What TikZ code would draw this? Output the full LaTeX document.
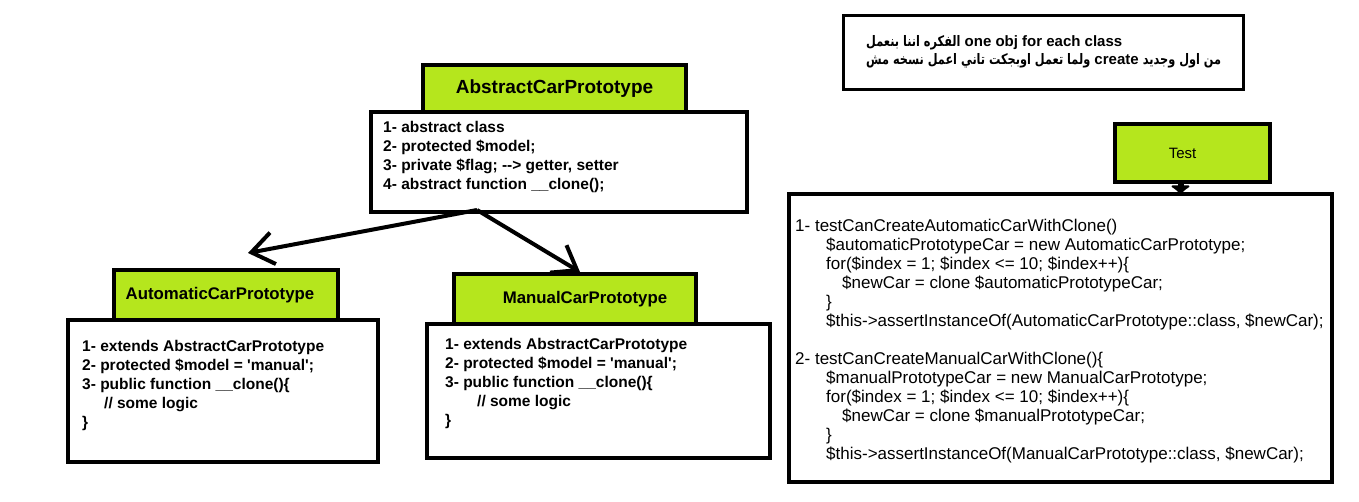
\documentclass[tikz,border=0pt]{standalone}
\usepackage{fontspec}
\setmainfont{Liberation Sans}[Ligatures=TeXOff]
\newfontfamily\arabicfont[Script=Arabic, FakeStretch=0.78]{DejaVu Sans}
\TeXXeTstate=1
\usetikzlibrary{arrows.meta}
\definecolor{paintlime}{RGB}{181,230,29}

\begin{document}
\begin{tikzpicture}[x=1pt, y=-1pt,
  classhead/.style={draw, line width=4pt, fill=paintlime, anchor=north west, inner sep=0pt},
  classbody/.style={draw, line width=4pt, fill=white, anchor=north west, inner sep=0pt},
  classtext/.style={anchor=north west, inner sep=0pt, align=left, font=\fontsize{15.5}{19}\selectfont\bfseries},
  testtext/.style={anchor=north west, inner sep=0pt, align=left, font=\fontsize{17}{19}\selectfont},
  inherit/.style={line width=4pt, -{Straight Barb[length=22pt, width=32pt]}}]
  \useasboundingbox (0,0) rectangle (1359,501);

  %%% note %%%
  \node[draw, line width=3pt, anchor=north west, inner sep=0pt, minimum width=400pt, minimum height=74pt] (note) at (842,14) {};
  \node[anchor=north west, inner sep=0pt, align=left, font=\fontsize{15}{18}\selectfont\bfseries] (notetext) at (866,35)
    {{\arabicfont\fontsize{14.5}{18}\selectfont\beginR الفكره اننا بنعمل\endR} one obj for each class\\
     {\arabicfont\fontsize{14.5}{18}\selectfont\beginR ولما تعمل اوبجكت تاني اعمل نسخه مش\endR} create {\arabicfont\fontsize{14.5}{18}\selectfont\beginR من اول وجديد\endR}};

  %%% abstract class %%%
  \node[classbody, minimum width=376pt, minimum height=100pt] (abstractbody) at (369,110) {};
  \node[classhead, minimum width=263pt, minimum height=47pt, font=\fontsize{19}{19}\selectfont\bfseries] (abstracthead) at (421,63) {AbstractCarPrototype};
  \node[classtext] (abstracttext) at (383,121)
    {1- abstract class\\
     2- protected \$model;\\
     3- private \$flag; -{}-> getter, setter\\
     4- abstract function \_\_clone();};

  %%% automatic class %%%
  \node[classbody, minimum width=310pt, minimum height=142pt] (autobody) at (66,318) {};
  \node[classhead, minimum width=224pt, minimum height=50pt, font=\fontsize{16.8}{19}\selectfont\bfseries] (autohead) at (112,268) {AutomaticCarPrototype\hspace*{12pt}};
  \node[classtext] (autotext) at (82,340)
    {1- extends AbstractCarPrototype\\
     2- protected \$model = 'manual';\\
     3- public function \_\_clone()\{\\
     \hspace*{22pt}// some logic\\
     \}};

  %%% manual class %%%
  \node[classbody, minimum width=343pt, minimum height=134pt] (manualbody) at (425,322) {};
  \node[classhead, minimum width=242pt, minimum height=50pt, font=\fontsize{16.8}{19}\selectfont\bfseries] (manualhead) at (452,272) {\hspace*{20pt}ManualCarPrototype};
  \node[classtext] (manualtext) at (445,338)
    {1- extends AbstractCarPrototype\\
     2- protected \$model = 'manual';\\
     3- public function \_\_clone()\{\\
     \hspace*{32pt}// some logic\\
     \}};

  %%% test class %%%
  \node[classbody, line width=3.5pt, minimum width=543pt, minimum height=288pt] (testbody) at (787,192) {};
  \node[classhead, minimum width=155pt, minimum height=58pt, font=\fontsize{15}{19}\selectfont] (testhead) at (1113,122) {Test\hspace*{20pt}};
  \node[testtext] (testcode) at (795,219)
    {1- testCanCreateAutomaticCarWithClone()\\
     \hspace*{31pt}\$automaticPrototypeCar = new AutomaticCarPrototype;\\
     \hspace*{31pt}for(\$index = 1; \$index <= 10; \$index++)\{\\
     \hspace*{47pt}\$newCar = clone \$automaticPrototypeCar;\\
     \hspace*{31pt}\}\\
     \hspace*{31pt}\$this->assertInstanceOf(AutomaticCarPrototype::class, \$newCar);\\[19pt]
     2- testCanCreateManualCarWithClone()\{\\
     \hspace*{31pt}\$manualPrototypeCar = new ManualCarPrototype;\\
     \hspace*{31pt}for(\$index = 1; \$index <= 10; \$index++)\{\\
     \hspace*{47pt}\$newCar = clone \$manualPrototypeCar;\\
     \hspace*{31pt}\}\\
     \hspace*{31pt}\$this->assertInstanceOf(ManualCarPrototype::class, \$newCar);};

  %%% connectors %%%
  \coordinate (split) at (477,210);
  \coordinate (autotip) at (248,253);
  \draw[inherit] (split) -- (autotip);
  \draw[inherit] (split) -- ([xshift=5pt]manualhead.north);
  \draw[line width=6pt, -{Latex[length=9pt, width=24pt, round]}] ([xshift=-12pt, yshift=4pt]testhead.south) -- ([xshift=-12pt, yshift=-2pt]testhead.south |- testbody.north);
\end{tikzpicture}
\end{document}
